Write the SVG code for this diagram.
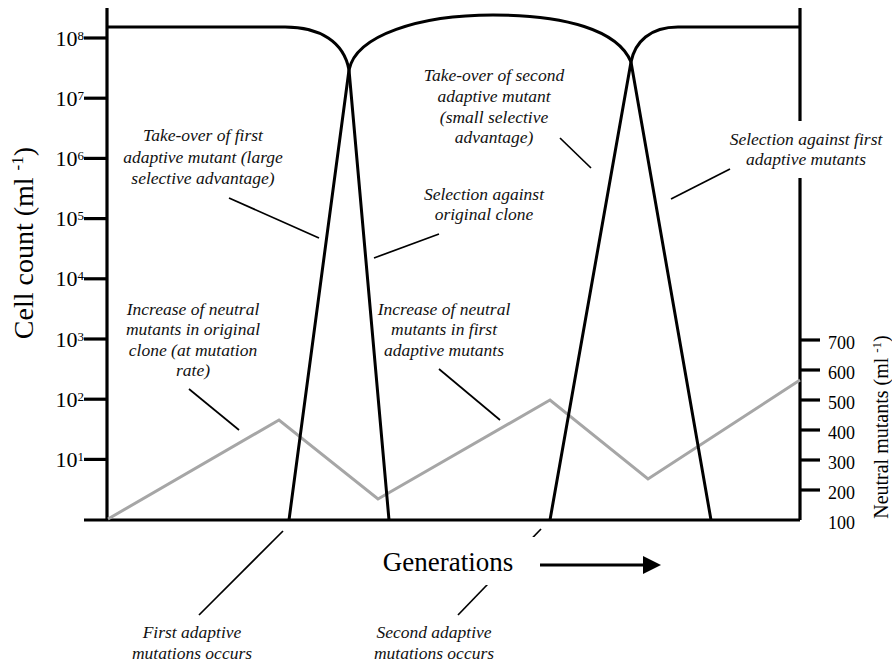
<svg xmlns="http://www.w3.org/2000/svg" width="892" height="662" viewBox="0 0 892 662">
<style>
.ax{stroke:#000;stroke-width:3.2;fill:none}
.cv{stroke:#000;stroke-width:3;fill:none;stroke-linejoin:round}
.gr{stroke:#a6a6a6;stroke-width:3;fill:none;stroke-linejoin:miter}
.pt{stroke:#000;stroke-width:1.7;fill:none}
.ann{font-family:'Liberation Serif','Times New Roman',Times,'DejaVu Serif',serif;font-style:italic;font-size:17.5px;fill:#111;text-anchor:middle}
.num{font-family:'Liberation Serif','Times New Roman',Times,'DejaVu Serif',serif;font-size:22px;fill:#000;text-anchor:end}
.rnum{font-family:'Liberation Serif','Times New Roman',Times,'DejaVu Serif',serif;font-size:18px;fill:#000}
.lab{font-family:'Liberation Serif','Times New Roman',Times,'DejaVu Serif',serif;fill:#000;text-anchor:middle}
</style>
<defs>
<marker id="ah" markerWidth="6" markerHeight="6" refX="0" refY="3" orient="auto" markerUnits="strokeWidth">
<path d="M0,0 L6,3 L0,6 z" fill="#000"/>
</marker>
</defs>
<rect width="892" height="662" fill="#fff"/>
<g id="axes">
<line class="ax" x1="107" y1="8" x2="107" y2="520"/>
<line class="ax" x1="800" y1="8" x2="800" y2="520"/>
<line class="ax" x1="84" y1="520" x2="800" y2="520"/>
<g id="left-ticks">
<line class="ax" x1="84" y1="38" x2="107" y2="38"/>
<line class="ax" x1="84" y1="98.2" x2="107" y2="98.2"/>
<line class="ax" x1="84" y1="158.4" x2="107" y2="158.4"/>
<line class="ax" x1="84" y1="218.6" x2="107" y2="218.6"/>
<line class="ax" x1="84" y1="278.8" x2="107" y2="278.8"/>
<line class="ax" x1="84" y1="339" x2="107" y2="339"/>
<line class="ax" x1="84" y1="399.2" x2="107" y2="399.2"/>
<line class="ax" x1="84" y1="459.4" x2="107" y2="459.4"/>
</g>
<g id="right-ticks">
<line class="ax" x1="800" y1="340" x2="820" y2="340"/>
<line class="ax" x1="800" y1="370" x2="820" y2="370"/>
<line class="ax" x1="800" y1="400" x2="820" y2="400"/>
<line class="ax" x1="800" y1="430" x2="820" y2="430"/>
<line class="ax" x1="800" y1="460" x2="820" y2="460"/>
<line class="ax" x1="800" y1="490" x2="820" y2="490"/>
</g>
</g>
<g id="left-tick-labels">
<text class="num" x="84" y="45.5">10<tspan font-size="13" dy="-6">8</tspan></text>
<text class="num" x="84" y="105.7">10<tspan font-size="13" dy="-6">7</tspan></text>
<text class="num" x="84" y="165.9">10<tspan font-size="13" dy="-6">6</tspan></text>
<text class="num" x="84" y="226.1">10<tspan font-size="13" dy="-6">5</tspan></text>
<text class="num" x="84" y="286.3">10<tspan font-size="13" dy="-6">4</tspan></text>
<text class="num" x="84" y="346.5">10<tspan font-size="13" dy="-6">3</tspan></text>
<text class="num" x="84" y="406.7">10<tspan font-size="13" dy="-6">2</tspan></text>
<text class="num" x="84" y="466.9">10<tspan font-size="13" dy="-6">1</tspan></text>
</g>
<g id="right-tick-labels">
<text class="rnum" x="828" y="349">700</text>
<text class="rnum" x="828" y="379">600</text>
<text class="rnum" x="828" y="409">500</text>
<text class="rnum" x="828" y="439">400</text>
<text class="rnum" x="828" y="469">300</text>
<text class="rnum" x="828" y="499">200</text>
<text class="rnum" x="828" y="529">100</text>
</g>
<g id="neutral-line">
<polyline class="gr" points="108,519 279,420 378,499 550,400 648,479 800,380"/>
</g>
<g id="original-clone">
<path class="cv" d="M107,27 L285,27 C320,27 344,42 349,70 L389,520"/>
</g>
<g id="first-adaptive">
<path class="cv" d="M289,520 L349,70 C356,35 420,15 493,15 C565,15 618,30 631,62 L711,520"/>
</g>
<g id="second-adaptive">
<path class="cv" d="M550,520 L631,62 C635,42 650,27 678,27 L800,27"/>
</g>
<rect x="710" y="121" width="182" height="57" fill="#fff"/>
<g id="connectors">
<line class="pt" x1="229" y1="198" x2="319" y2="238"/>
<line class="pt" x1="439" y1="234" x2="374" y2="258"/>
<line class="pt" x1="560" y1="138" x2="591" y2="168"/>
<line class="pt" x1="730" y1="169" x2="671" y2="199"/>
<line class="pt" x1="189" y1="389" x2="239" y2="430"/>
<line class="pt" x1="439" y1="369" x2="500" y2="420"/>
<line class="pt" x1="283" y1="531" x2="199" y2="615"/>
<line class="pt" x1="541" y1="529" x2="458" y2="615"/>
</g>
<rect x="319" y="537" width="261" height="48" fill="#fff"/>
<g id="y-label-left">
<text class="lab" font-size="28" transform="translate(33,243) rotate(-90)">Cell count (ml <tspan font-size="17" dy="-10">-1</tspan><tspan dy="10">)</tspan></text>
</g>
<g id="y-label-right">
<text class="lab" font-size="20" transform="translate(888,427) rotate(-90)">Neutral mutants (ml <tspan font-size="13" dy="-7">-1</tspan><tspan dy="7">)</tspan></text>
</g>
<g id="x-label">
<text class="lab" font-size="27" x="448" y="571">Generations</text>
<line x1="540" y1="565" x2="643" y2="565" stroke="#000" stroke-width="3" marker-end="url(#ah)"/>
</g>
<g id="note-takeover-first">
<text class="ann" x="203" y="141">Take-over of first</text>
<text class="ann" x="203" y="163">adaptive mutant (large</text>
<text class="ann" x="203" y="184">selective advantage)</text>
</g>
<g id="note-selection-original">
<text class="ann" x="484" y="200">Selection against</text>
<text class="ann" x="484" y="220">original clone</text>
</g>
<g id="note-takeover-second">
<text class="ann" x="494" y="81">Take-over of second</text>
<text class="ann" x="494" y="102">adaptive mutant</text>
<text class="ann" x="494" y="123">(small selective</text>
<text class="ann" x="494" y="143">advantage)</text>
</g>
<g id="note-selection-first">
<text class="ann" x="806" y="145">Selection against first</text>
<text class="ann" x="806" y="165">adaptive mutants</text>
</g>
<g id="note-neutral-original">
<text class="ann" x="193" y="315">Increase of neutral</text>
<text class="ann" x="193" y="335">mutants in original</text>
<text class="ann" x="193" y="356">clone (at mutation</text>
<text class="ann" x="193" y="376">rate)</text>
</g>
<g id="note-neutral-first">
<text class="ann" x="444" y="315">Increase of neutral</text>
<text class="ann" x="444" y="335">mutants in first</text>
<text class="ann" x="444" y="356">adaptive mutants</text>
</g>
<g id="note-first-mutation">
<text class="ann" x="192" y="638">First adaptive</text>
<text class="ann" x="192" y="659">mutations occurs</text>
</g>
<g id="note-second-mutation">
<text class="ann" x="434" y="638">Second adaptive</text>
<text class="ann" x="434" y="659">mutations occurs</text>
</g>
</svg>
